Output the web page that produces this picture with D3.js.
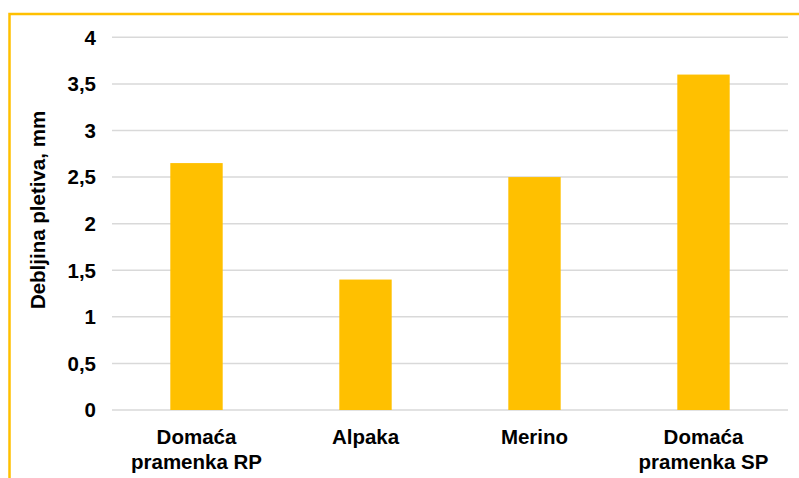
<!DOCTYPE html>
<html><head><meta charset="utf-8">
<script src="https://cdn.jsdelivr.net/npm/d3@7"></script>
<style>body{margin:0;background:#fff}svg{display:block}</style>
</head><body>
<script>
const categories = [["Domaća","pramenka RP"],["Alpaka"],["Merino"],["Domaća","pramenka SP"]];
const values = [2.65, 1.4, 2.5, 3.6];
const yTicks = [0,0.5,1,1.5,2,2.5,3,3.5,4];
const yTickLabels = ["0","0,5","1","1,5","2","2,5","3","3,5","4"];
const yTitle = "Debljina pletiva, mm";

const W=799,H=478;
const svg=d3.select("body").append("svg").attr("width",W).attr("height",H);
const font="'Liberation Sans', Arial, sans-serif";
// border
svg.append("rect").attr("x",9.5).attr("y",14).attr("width",900).attr("height",600)
  .attr("fill","none").attr("stroke","#FFC000").attr("stroke-width",2.5);

const x=d3.scaleBand().domain(d3.range(categories.length)).range([112,788]).paddingInner(0.69).paddingOuter(0.345);
const y=d3.scaleLinear().domain([0,4]).range([410,37.3]);

const g=svg.append("g");
g.selectAll("line.grid").data(yTicks).enter().append("line")
  .attr("x1",112).attr("x2",788).attr("y1",d=>y(d)).attr("y2",d=>y(d))
  .attr("stroke","#d9d9d9").attr("stroke-width",1.5);

g.selectAll("rect.bar").data(values).enter().append("rect")
  .attr("x",(d,i)=>x(i)).attr("width",x.bandwidth())
  .attr("y",d=>y(d)).attr("height",d=>y(0)-y(d)).attr("fill","#FFC000");

g.selectAll("text.tick").data(yTicks).enter().append("text")
  .attr("x",96).attr("y",d=>y(d)).attr("dy","0.36em").attr("text-anchor","end")
  .attr("font-family",font).attr("font-weight","bold").attr("font-size",20.5).attr("fill","#000")
  .text((d,i)=>yTickLabels[i]);

categories.forEach((lines,i)=>{
  const t=g.append("text").attr("text-anchor","middle").attr("font-family",font)
    .attr("font-weight","bold").attr("font-size",20.5).attr("fill","#000");
  lines.forEach((l,j)=>{
    t.append("tspan").attr("x",x(i)+x.bandwidth()/2).attr("y",444+j*24.5).text(l);
  });
});

svg.append("text").attr("transform","translate(45,210) rotate(-90)")
  .attr("text-anchor","middle").attr("font-family",font).attr("font-weight","bold")
  .attr("font-size",20.5).attr("fill","#000").text(yTitle);
</script>
</body></html>
